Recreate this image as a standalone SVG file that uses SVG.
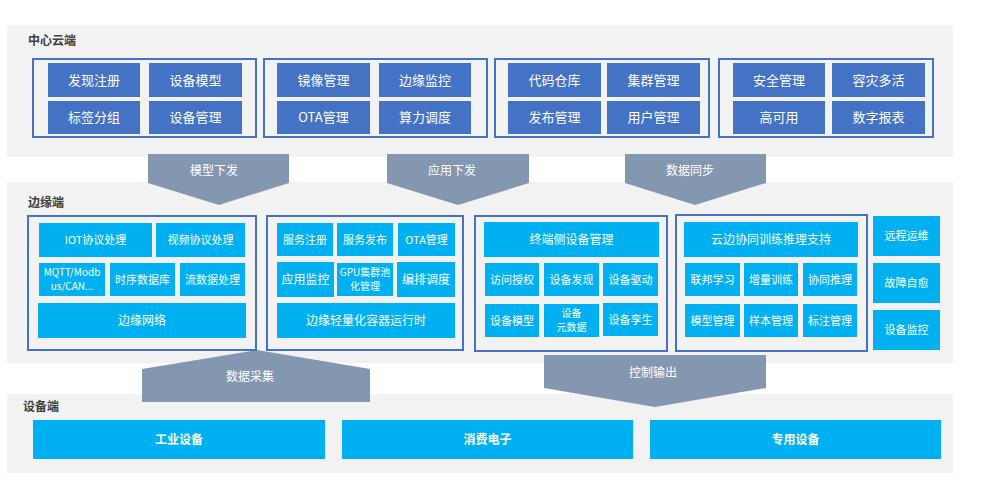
<svg xmlns="http://www.w3.org/2000/svg" width="995" height="498" viewBox="0 0 995 498">
<style>
text{font-family:"Microsoft YaHei","Noto Sans CJK SC","Noto Sans",sans-serif;}
.panel{fill:#F2F2F2;}
.hdr{font-size:12px;font-weight:bold;fill:#404040;}
.grp{fill:none;stroke:#4472C4;stroke-width:2;}
.c1{fill:#4472C4;}
.c2{fill:#00B0F0;}
.t{fill:#FFFFFF;text-anchor:middle;font-size:13px;}
.s{font-size:11px;}
.x{font-size:10px;}
.m{font-size:12px;}
.b{font-weight:bold;font-size:12px;}
.arrow{fill:#8497B0;}
.al{fill:#FFFFFF;text-anchor:middle;font-size:12px;}
</style>
<rect width="995" height="498" fill="#FFFFFF"/>
<g id="panels">
<rect class="panel" x="7" y="25" width="946" height="132"/>
<text class="hdr" x="28" y="45">中心云端</text>
<rect class="panel" x="7" y="182" width="946" height="181"/>
<text class="hdr" x="28" y="207">边缘端</text>
<rect class="panel" x="7" y="394" width="946" height="79"/>
<text class="hdr" x="23" y="411">设备端</text>
</g>
<g id="connectors">
<g id="arrow-model">
<polygon class="arrow" points="148,154 289,154 289,183 219,205 148,183"/>
<text class="al" x="214" y="175">模型下发</text>
</g>
<g id="arrow-app">
<polygon class="arrow" points="387,154 529,154 529,183 458,205 387,183"/>
<text class="al" x="452" y="175">应用下发</text>
</g>
<g id="arrow-sync">
<polygon class="arrow" points="625,154 766,154 766,183 695,205 625,183"/>
<text class="al" x="690" y="175">数据同步</text>
</g>
<g id="arrow-collect">
<polygon class="arrow" points="142,402 142,369 257,350 370,369 370,402"/>
<text class="al" x="250" y="381">数据采集</text>
</g>
<g id="arrow-control">
<polygon class="arrow" points="544,355 766,355 766,388 655,407 544,388"/>
<text class="al" x="653" y="377">控制输出</text>
</g>
</g>
<g id="cloud-g1">
<rect class="grp" x="33" y="59" width="223" height="78"/>
<rect class="c1" x="48" y="63" width="92" height="34"/><text class="t" x="94" y="84.5">发现注册</text>
<rect class="c1" x="149" y="63" width="93" height="34"/><text class="t" x="195.5" y="84.5">设备模型</text>
<rect class="c1" x="48" y="101" width="92" height="33"/><text class="t" x="94" y="122">标签分组</text>
<rect class="c1" x="149" y="101" width="93" height="33"/><text class="t" x="195.5" y="122">设备管理</text>
</g>
<g id="cloud-g2">
<rect class="grp" x="264" y="59" width="223" height="78"/>
<rect class="c1" x="277" y="63" width="93" height="34"/><text class="t" x="323.5" y="84.5">镜像管理</text>
<rect class="c1" x="379" y="63" width="92" height="34"/><text class="t" x="425" y="84.5">边缘监控</text>
<rect class="c1" x="277" y="101" width="93" height="33"/><text class="t" x="323.5" y="122">OTA管理</text>
<rect class="c1" x="379" y="101" width="92" height="33"/><text class="t" x="425" y="122">算力调度</text>
</g>
<g id="cloud-g3">
<rect class="grp" x="495" y="59" width="214" height="78"/>
<rect class="c1" x="508" y="63" width="93" height="34"/><text class="t" x="554.5" y="84.5">代码仓库</text>
<rect class="c1" x="607" y="63" width="93" height="34"/><text class="t" x="653.5" y="84.5">集群管理</text>
<rect class="c1" x="508" y="101" width="93" height="33"/><text class="t" x="554.5" y="122">发布管理</text>
<rect class="c1" x="607" y="101" width="93" height="33"/><text class="t" x="653.5" y="122">用户管理</text>
</g>
<g id="cloud-g4">
<rect class="grp" x="719" y="59" width="214" height="78"/>
<rect class="c1" x="733" y="63" width="92" height="34"/><text class="t" x="779" y="84.5">安全管理</text>
<rect class="c1" x="832" y="63" width="93" height="34"/><text class="t" x="878.5" y="84.5">容灾多活</text>
<rect class="c1" x="733" y="101" width="92" height="33"/><text class="t" x="779" y="122">高可用</text>
<rect class="c1" x="832" y="101" width="93" height="33"/><text class="t" x="878.5" y="122">数字报表</text>
</g>
<g id="edge-g1">
<rect class="grp" x="28" y="216" width="228" height="134"/>
<rect class="c2" x="39" y="223" width="113" height="34"/><text class="t s" x="95.5" y="244">IOT协议处理</text>
<rect class="c2" x="156" y="223" width="89" height="34"/><text class="t s" x="200.5" y="244">视频协议处理</text>
<rect class="c2" x="39" y="263" width="66" height="33"/><text class="t x" x="72" y="275.5"><tspan x="72">MQTT/Modb</tspan><tspan x="72" dy="14.8">us/CAN...</tspan></text>
<rect class="c2" x="110" y="263" width="65" height="33"/><text class="t s" x="142.5" y="283.5">时序数据库</text>
<rect class="c2" x="180" y="263" width="65" height="33"/><text class="t s" x="212.5" y="283.5">流数据处理</text>
<rect class="c2" x="38" y="303" width="208" height="35"/><text class="t m" x="142" y="325">边缘网络</text>
</g>
<g id="edge-g2">
<rect class="grp" x="267" y="216" width="196" height="134"/>
<rect class="c2" x="277" y="223" width="56" height="33"/><text class="t s" x="305" y="243.5">服务注册</text>
<rect class="c2" x="337" y="223" width="56" height="33"/><text class="t s" x="365" y="243.5">服务发布</text>
<rect class="c2" x="398" y="223" width="57" height="33"/><text class="t s" x="426.5" y="243.5">OTA管理</text>
<rect class="c2" x="277" y="262" width="57" height="35"/><text class="t m" x="305.5" y="284">应用监控</text>
<rect class="c2" x="337" y="263" width="56" height="33"/><text class="t x" x="365" y="275.5"><tspan x="365">GPU集群池</tspan><tspan x="365" dy="14.8">化管理</tspan></text>
<rect class="c2" x="397" y="262" width="58" height="35"/><text class="t m" x="426" y="284">编排调度</text>
<rect class="c2" x="277" y="303" width="178" height="35"/><text class="t m" x="366" y="325">边缘轻量化容器运行时</text>
</g>
<g id="edge-g3">
<rect class="grp" x="475" y="216" width="192" height="135"/>
<rect class="c2" x="484" y="222" width="175" height="35"/><text class="t m" x="571.5" y="244">终端侧设备管理</text>
<rect class="c2" x="485" y="263" width="54" height="33"/><text class="t s" x="512" y="283.5">访问授权</text>
<rect class="c2" x="544" y="263" width="55" height="33"/><text class="t s" x="571.5" y="283.5">设备发现</text>
<rect class="c2" x="603" y="263" width="55" height="33"/><text class="t s" x="630.5" y="283.5">设备驱动</text>
<rect class="c2" x="485" y="304" width="54" height="33"/><text class="t s" x="512" y="324.5">设备模型</text>
<rect class="c2" x="544" y="304" width="55" height="33"/><text class="t x" x="571.5" y="316.5"><tspan x="571.5">设备</tspan><tspan x="571.5" dy="14.8">元数据</tspan></text>
<rect class="c2" x="603" y="303" width="55" height="33"/><text class="t s" x="630.5" y="323.5">设备孪生</text>
</g>
<g id="edge-g4">
<rect class="grp" x="676" y="215" width="191" height="136"/>
<rect class="c2" x="684" y="222" width="174" height="35"/><text class="t m" x="771" y="244">云边协同训练推理支持</text>
<rect class="c2" x="685" y="263" width="55" height="33"/><text class="t s" x="712.5" y="283.5">联邦学习</text>
<rect class="c2" x="744" y="263" width="54" height="33"/><text class="t s" x="771" y="283.5">增量训练</text>
<rect class="c2" x="803" y="263" width="54" height="33"/><text class="t s" x="830" y="283.5">协同推理</text>
<rect class="c2" x="685" y="304" width="55" height="33"/><text class="t s" x="712.5" y="324.5">模型管理</text>
<rect class="c2" x="744" y="304" width="54" height="33"/><text class="t s" x="771" y="324.5">样本管理</text>
<rect class="c2" x="803" y="304" width="54" height="33"/><text class="t s" x="830" y="324.5">标注管理</text>
</g>
<g id="edge-ops">
<rect class="c2" x="873" y="216" width="67" height="40"/><text class="t s" x="906.5" y="240">远程运维</text>
<rect class="c2" x="873" y="263" width="67" height="40"/><text class="t s" x="906.5" y="287">故障自愈</text>
<rect class="c2" x="873" y="310" width="67" height="40"/><text class="t s" x="906.5" y="334">设备监控</text>
</g>
<g id="device-industrial">
<rect class="c2" x="33" y="420" width="292" height="39"/><text class="t b" x="179" y="444">工业设备</text>
</g>
<g id="device-consumer">
<rect class="c2" x="342" y="420" width="291" height="39"/><text class="t b" x="487.5" y="444">消费电子</text>
</g>
<g id="device-special">
<rect class="c2" x="650" y="420" width="291" height="39"/><text class="t b" x="795.5" y="444">专用设备</text>
</g>
</svg>
